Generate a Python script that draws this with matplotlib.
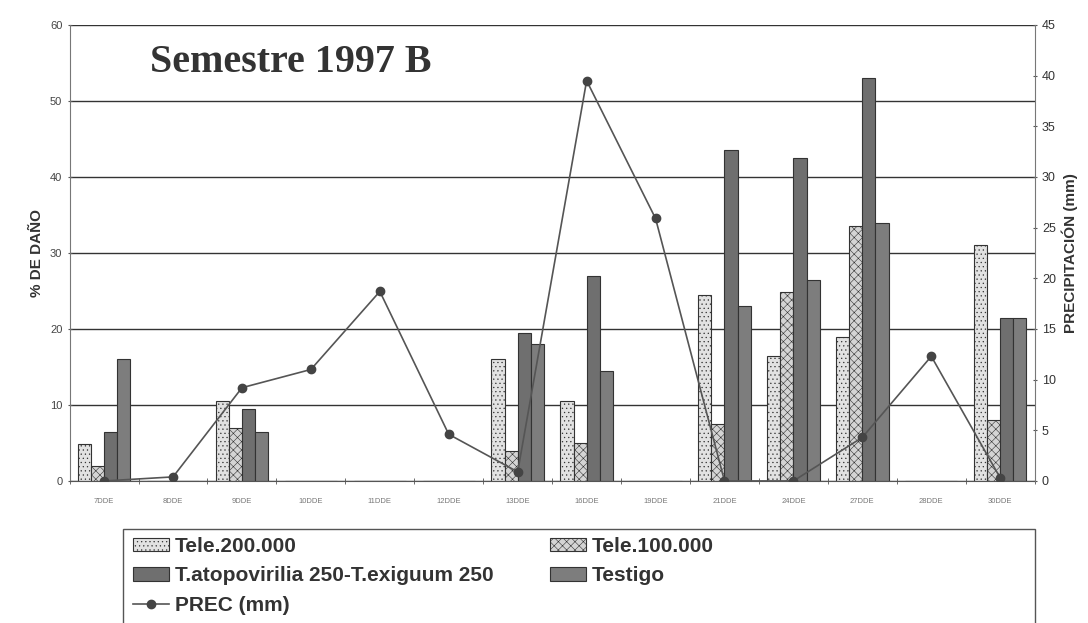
import numpy as np
import matplotlib
matplotlib.use("Agg")
from matplotlib import pyplot as plt
from matplotlib.patches import Rectangle

dias = ["7DDE", "8DDE", "9DDE", "10DDE", "11DDE", "12DDE", "13DDE",
        "16DDE", "19DDE", "21DDE", "24DDE", "27DDE", "28DDE", "30DDE"]

tele200 = [4.8, 0, 10.5, 0, 0, 0, 16, 10.5, 0, 24.5, 16.5, 19, 0, 31]
tele100 = [2, 0, 7, 0, 0, 0, 4, 5, 0, 7.5, 24.8, 33.5, 0, 8]
tatopo = [6.5, 0, 9.5, 0, 0, 0, 19.5, 27, 0, 43.5, 42.5, 53, 0, 21.5]
testigo = [16, 0, 6.5, 0, 0, 0, 18, 14.5, 0, 23, 26.5, 34, 0, 21.5]
prec = [0, 0.4, 9.2, 11, 18.7, 4.6, 0.9, 39.5, 25.9, 0, 0, 4.3, 12.3, 0.3]

plt.rcParams['font.family'] = ['Liberation Sans', 'DejaVu Sans']
plt.rcParams['hatch.color'] = "#a0a0a0"
plt.rcParams['hatch.linewidth'] = 0.4

fig = plt.figure(figsize=(10.88, 6.23), dpi=100)
ax = fig.add_axes([0.064, 0.228, 0.887, 0.732])

x = np.arange(len(dias))
w = 0.19
series = [
    (tele200, "Tele.200.000", "#e2e2e2", "...."),
    (tele100, "Tele.100.000", "#d4d4d4", "xxxx"),
    (tatopo, "T.atopovirilia 250-T.exiguum 250", "#6f6f6f", None),
    (testigo, "Testigo", "#7d7d7d", None),
]
handles = []
for i, (vals, lab, col, hat) in enumerate(series):
    b = ax.bar(x + (i - 1.5) * w, vals, w, color=col, edgecolor="#333333",
               linewidth=0.8, hatch=hat, label=lab)
    handles.append(b)

ax.set_xlim(-0.5, len(dias) - 0.5)
ax.set_ylim(0, 60)
ax.set_yticks(range(0, 61, 10))
ax.yaxis.grid(True, color="#333333", linewidth=1.0)
ax.set_axisbelow(True)
ax.set_xticks(x)
ax.set_xticklabels(dias, fontsize=5.5, color="#777777")
ax.set_xticks(np.arange(-0.5, len(dias), 1), minor=True)
ax.tick_params(axis="x", which="major", length=0, pad=12)
ax.tick_params(axis="x", which="minor", length=5, direction="inout", color="#555555")
ax.tick_params(axis="y", labelsize=8, color="#555555", labelcolor="#444444", direction="inout")
ax.set_ylabel("% DE DAÑO", fontsize=11, fontweight="bold", color="#333333")
for s in ["top", "right"]:
    ax.spines[s].set_visible(False)
ax.spines["left"].set_color("#777777")
ax.spines["bottom"].set_color("#555555")

ax2 = ax.twinx()
ln, = ax2.plot(x, prec, color="#555555", linewidth=1.2, marker="o",
               markersize=6, markerfacecolor="#444444", markeredgecolor="#444444",
               label="PREC (mm)")
ax2.set_ylim(0, 45)
ax2.set_yticks(range(0, 46, 5))
ax2.tick_params(axis="y", labelsize=9, color="#555555", labelcolor="#333333", direction="inout")
ax2.set_ylabel("PRECIPITACIÓN (mm)", fontsize=11, fontweight="bold", color="#333333")
for s in ["top", "left", "bottom"]:
    ax2.spines[s].set_visible(False)
ax2.spines["right"].set_color("#777777")

ax.text(0.083, 0.897, "Semestre 1997 B", transform=ax.transAxes,
        fontsize=28.8, fontweight="bold", family="Liberation Serif", color="#333333")

# legend box below the chart
fig.patches.append(Rectangle((123 / 1088, -0.01), 912 / 1088, (623 - 529) / 623 + 0.01,
                             transform=fig.transFigure, fill=False,
                             edgecolor="#555555", linewidth=1.0))
order = [handles[0], handles[2], ln, handles[1], handles[3]]
leg = fig.legend(handles=order, labels=[h.get_label() for h in order],
                 loc="upper left", bbox_to_anchor=(133 / 1088, 0.138),
                 ncol=2, frameon=False, prop={"weight": "bold", "size": 15},
                 handlelength=1.73, handleheight=0.6, handletextpad=0.29,
                 labelspacing=0.5, columnspacing=2.7, borderaxespad=0,
                 borderpad=0)
for t in leg.get_texts():
    t.set_color("#333333")

fig.savefig("out.png", dpi=100)
